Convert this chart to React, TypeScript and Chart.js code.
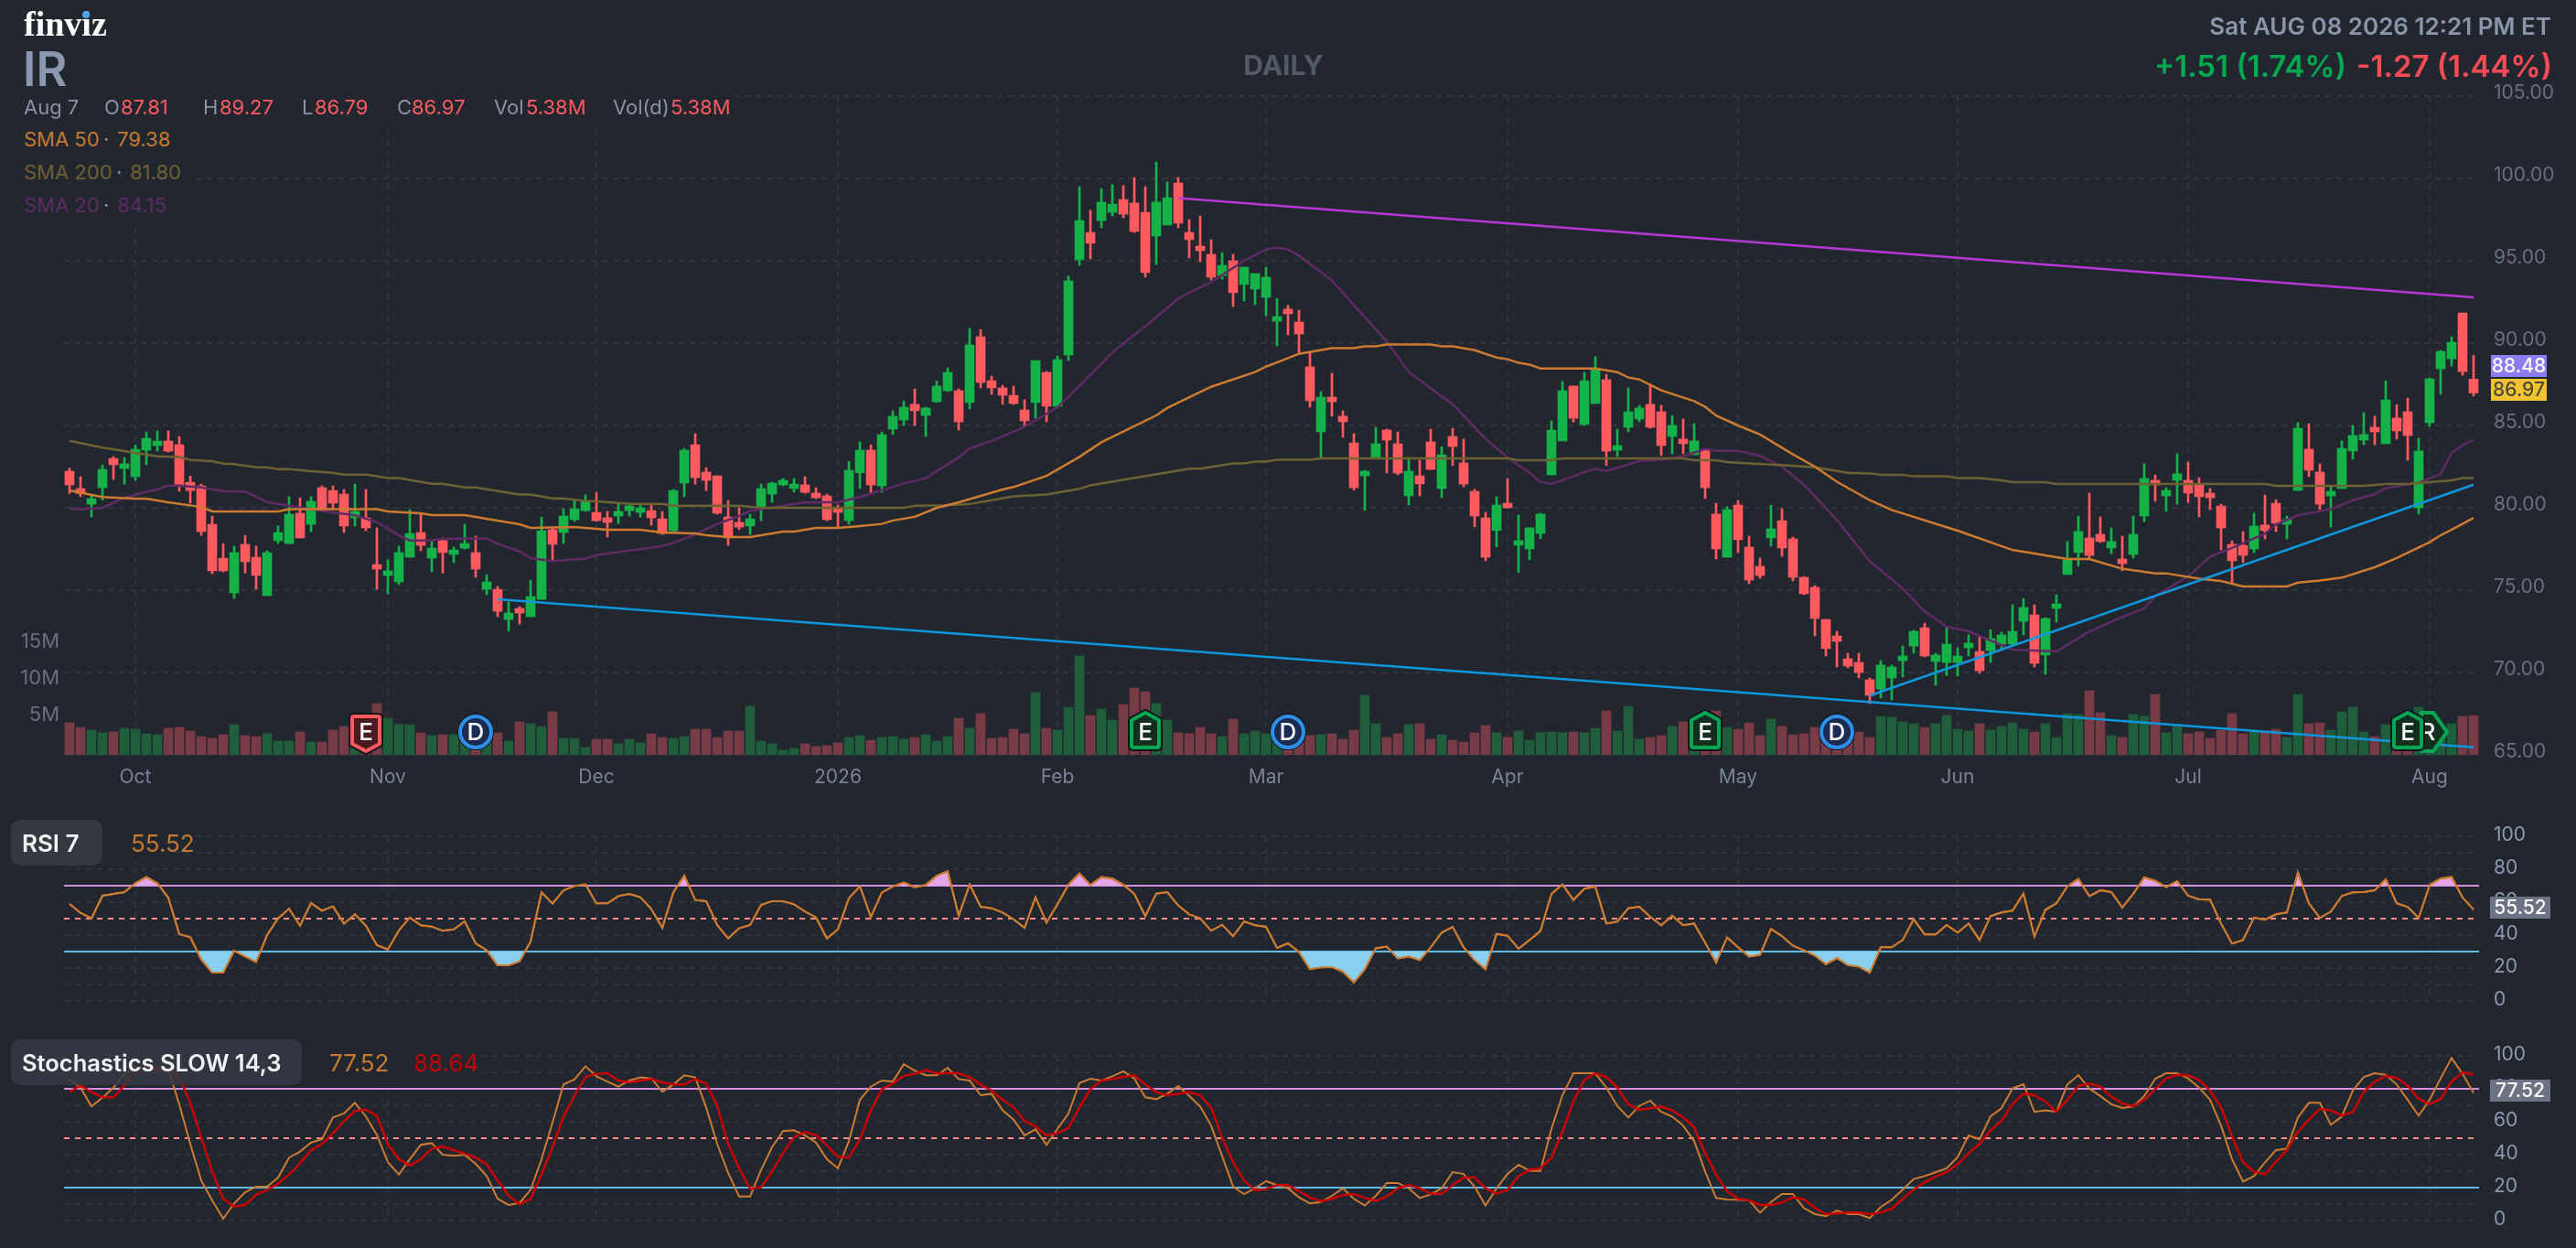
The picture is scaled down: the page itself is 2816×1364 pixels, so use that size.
import React, { useEffect, useRef } from "react";
import { Chart, registerables } from "chart.js";

Chart.register(...registerables);

const opens = [
82.22,81.17,80.22,81.22,83.0,82.39,81.89,83.5,83.78,84.05,
83.83,81.55,81.33,79.0,76.94,74.83,77.78,77.0,74.67,78.0,
77.83,79.67,79.0,81.22,81.05,80.83,79.39,79.39,76.55,75.89,
75.5,77.0,78.5,76.94,78.0,77.17,77.55,77.28,75.05,75.05,
73.22,73.89,73.39,74.44,78.67,78.5,79.28,79.83,79.72,79.39,
79.5,79.83,79.72,79.83,79.33,78.61,81.5,83.83,82.17,81.94,
79.44,79.11,78.89,80.05,80.83,81.39,81.17,81.39,80.89,80.72,
80.0,79.22,82.13,83.5,81.33,84.78,85.33,86.28,85.61,86.44,
87.11,87.11,86.39,90.39,87.72,87.28,86.83,85.94,86.39,88.22,
86.17,89.28,95.06,96.72,97.44,97.94,98.72,98.5,97.94,96.5,
97.17,99.72,96.72,95.89,95.39,94.11,95.0,93.56,93.28,92.78,
91.33,92.06,91.28,88.56,84.61,86.72,85.56,83.94,81.94,83.06,
84.72,83.89,80.73,81.94,84.0,81.17,84.33,82.72,81.0,79.39,
78.62,80.28,77.73,77.5,78.45,82.0,84.06,87.39,85.06,86.33,
87.78,83.5,84.89,85.39,86.28,85.83,84.33,84.17,83.22,83.5,
79.62,77.0,80.17,77.61,76.45,78.17,79.22,78.11,75.78,75.17,
73.22,72.22,70.83,70.61,69.56,69.0,69.67,70.72,71.61,72.72,
70.67,70.61,70.61,71.5,71.28,71.33,71.72,71.72,73.11,73.5,
71.06,73.89,75.95,77.28,78.17,78.39,77.56,76.89,77.17,79.5,
81.67,80.72,81.67,81.67,81.45,80.89,80.11,77.78,77.72,77.5,
78.95,80.28,79.0,81.06,83.56,82.17,80.72,81.17,83.45,84.11,
84.89,83.89,85.45,85.83,80.0,85.17,88.44,89.05,91.83,87.81];

const closes = [
81.39,80.87,80.55,82.33,82.61,82.67,83.55,84.22,84.05,83.44,
81.39,81.05,78.55,76.17,76.17,77.28,76.72,75.89,77.28,78.5,
79.61,78.17,80.39,79.83,80.28,78.89,79.78,78.78,76.28,76.17,
77.28,78.44,77.72,77.55,77.28,77.44,77.83,76.28,75.5,73.72,
73.61,73.61,74.61,78.61,77.78,79.5,79.94,80.39,79.22,79.11,
79.78,80.11,80.0,79.39,78.44,81.05,83.5,81.83,81.67,79.67,
78.17,78.83,79.33,81.17,81.5,81.67,81.44,80.94,80.61,79.28,
79.72,82.28,83.5,81.39,84.44,85.56,86.11,85.89,86.06,87.39,
88.22,85.22,89.89,87.61,87.28,86.83,86.33,85.28,88.94,86.17,
89.0,93.78,97.44,96.06,98.56,98.44,97.83,96.78,94.28,98.56,
98.83,97.28,96.28,95.61,94.0,94.72,93.06,94.61,94.22,94.0,
91.61,91.78,90.56,86.5,86.72,86.44,85.22,81.22,82.22,83.89,
84.11,82.11,82.23,81.45,82.33,83.22,83.72,81.44,79.5,77.0,
80.17,80.0,78.0,78.78,79.62,84.72,87.11,85.44,87.72,88.39,
83.44,83.78,85.83,86.06,84.89,83.78,85.0,83.89,84.06,81.22,
77.5,79.89,78.06,75.61,75.89,78.72,77.56,75.78,74.78,73.28,
71.45,71.89,70.39,70.0,68.61,70.45,70.33,71.0,72.5,71.0,
71.06,71.72,71.0,71.78,70.11,72.06,72.28,72.5,73.95,70.56,
73.28,74.17,76.83,78.56,77.11,77.95,77.95,76.61,78.39,81.78,
81.39,81.06,82.06,80.89,80.67,80.61,78.78,76.78,77.11,78.89,
78.61,79.06,79.28,84.83,82.28,80.22,81.0,83.61,84.39,84.45,
84.61,86.55,84.67,84.39,83.45,87.83,89.5,90.05,88.27,86.97];

const highs = [
82.41,81.89,80.74,82.59,83.11,83.05,83.81,84.61,84.67,84.67,
84.33,81.94,81.44,79.5,77.83,77.67,78.33,77.67,77.39,78.89,
80.67,80.61,80.67,81.33,81.33,81.11,81.44,81.11,78.78,76.83,
77.67,79.89,79.61,77.94,78.17,77.61,79.0,78.28,75.94,75.22,
74.28,74.0,75.61,79.44,78.78,79.94,80.5,80.78,80.94,79.78,
80.22,80.28,80.17,80.28,79.78,81.11,83.61,84.5,82.44,81.94,
80.44,80.0,79.61,81.44,81.55,81.78,81.78,81.89,81.22,80.83,
80.17,82.83,84.0,83.83,84.61,85.89,86.5,87.22,86.11,87.72,
88.5,87.22,90.89,90.83,88.0,87.44,87.39,86.56,88.94,88.28,
89.22,94.06,99.5,98.06,99.39,99.61,99.56,100.06,99.5,101.0,
99.78,100.06,97.5,97.72,96.28,95.5,95.39,94.61,94.22,94.61,
92.72,92.28,92.0,89.44,87.06,88.17,85.89,84.5,82.28,84.89,
84.78,84.61,83.06,82.89,84.78,83.72,84.83,84.17,81.12,79.73,
80.67,81.78,79.56,78.78,79.67,85.28,87.67,87.39,88.22,89.17,
88.11,84.78,87.28,86.22,87.5,86.22,85.61,85.39,85.11,83.5,
80.28,80.06,80.45,78.28,76.95,80.17,79.95,78.22,75.83,75.28,
73.22,72.5,71.17,71.17,69.67,70.72,70.45,71.61,72.56,73.0,
71.17,72.72,71.5,72.28,72.17,72.61,72.45,74.11,74.5,74.11,
73.33,74.72,77.95,79.5,80.89,79.45,78.78,78.28,79.5,82.67,
82.0,81.22,83.28,82.78,81.83,81.17,80.22,78.0,78.56,79.67,
80.78,80.5,79.5,85.17,85.11,82.67,81.28,84.06,85.0,85.78,
85.56,87.72,86.27,86.66,84.22,87.89,89.55,90.39,91.83,89.27];

const lows = [
80.87,80.68,79.44,80.46,81.72,81.44,81.67,82.61,83.44,83.39,
81.0,80.28,78.33,76.0,76.11,74.5,76.05,75.05,74.67,77.83,
77.83,78.17,78.55,79.78,79.94,78.5,78.89,78.61,75.05,74.78,
75.33,77.0,77.39,76.11,76.05,76.67,77.5,75.78,74.72,73.39,
72.5,72.94,73.39,74.44,76.83,77.83,79.17,79.78,79.17,78.22,
79.05,79.5,79.44,78.94,78.39,78.55,80.67,81.44,81.05,79.61,
77.72,78.67,78.39,79.22,80.33,81.33,80.94,80.89,80.55,79.22,
78.8,79.0,81.17,80.94,80.94,84.44,85.0,85.0,84.33,86.39,
87.06,84.72,86.0,87.28,86.89,86.28,86.28,85.0,85.44,85.22,
86.17,88.94,94.72,95.11,97.0,97.72,97.61,96.72,94.0,94.78,
97.17,97.0,95.17,94.94,93.83,93.89,92.22,92.56,92.33,91.67,
89.83,90.5,89.33,86.11,83.0,85.56,84.28,81.06,79.84,83.06,
82.11,82.0,80.17,80.73,82.33,80.61,82.56,81.28,78.84,76.78,
77.62,80.0,76.06,76.84,78.12,82.0,84.06,85.22,85.0,86.33,
82.56,83.11,84.61,85.22,84.83,83.17,83.28,83.28,83.22,80.56,
76.89,77.0,77.28,75.39,75.72,77.67,77.06,75.56,74.72,72.22,
71.0,70.33,70.28,69.67,68.11,68.45,68.33,69.72,71.17,70.95,
69.22,69.83,69.78,71.0,69.95,70.61,71.39,71.67,72.28,70.33,
69.89,73.06,75.95,76.45,76.95,77.89,77.22,76.17,76.95,79.17,
80.39,79.78,80.22,80.33,79.45,79.89,77.45,75.45,76.67,77.28,
78.11,78.56,78.11,81.06,81.89,79.89,78.83,81.17,82.95,83.83,
83.83,83.89,84.17,82.89,79.61,84.95,86.89,88.61,88.05,86.79];

const volumes = [
4.38,3.75,3.38,3.0,3.13,3.63,3.5,2.88,2.75,3.63,
3.75,3.25,2.5,2.25,2.75,4.13,2.63,2.5,2.88,1.88,
1.88,3.13,1.75,1.75,3.38,3.88,2.5,3.0,7.0,5.0,
4.13,4.13,3.0,2.63,2.75,2.75,2.3,3.0,2.5,3.0,
1.88,4.5,4.25,3.88,5.88,2.25,2.25,1.0,2.13,2.13,
1.5,2.13,1.63,2.88,2.38,2.25,2.5,3.5,3.5,2.38,
3.25,3.25,6.63,1.88,1.5,0.63,0.88,1.5,1.13,1.25,
1.63,2.38,2.63,2.0,2.38,2.5,2.13,2.38,2.75,1.88,
2.5,5.0,3.63,5.63,2.25,2.38,3.5,2.88,8.5,3.63,
3.38,6.5,13.5,5.38,6.25,4.75,6.88,9.13,8.63,7.0,
4.75,3.0,2.88,3.75,2.88,2.5,4.88,2.88,3.25,2.88,
2.0,2.0,2.0,2.63,2.75,2.88,2.13,3.38,8.13,4.25,
2.38,2.88,4.13,4.25,2.13,2.75,2.0,1.75,3.0,4.0,
3.0,2.38,3.25,2.0,3.0,3.13,3.0,3.13,3.0,3.63,
6.0,3.25,6.63,2.13,2.38,2.63,3.88,4.5,3.0,3.0,
6.0,3.75,3.5,4.38,2.63,4.88,3.88,2.75,2.88,3.75,
3.5,2.0,3.88,3.13,2.38,5.25,5.13,4.5,4.25,3.75,
4.25,5.38,3.5,3.25,4.25,3.38,3.88,4.38,3.5,3.13,
4.25,2.38,5.63,5.5,8.75,5.75,2.63,2.38,5.5,5.25,
8.25,3.0,4.13,2.88,3.13,2.25,3.38,5.63,2.88,3.13,
3.25,3.5,2.38,8.25,4.25,4.38,3.38,5.88,6.5,3.13,
2.5,4.13,3.5,3.5,6.5,5.5,3.75,4.25,5.25,5.38];

const sma50Idx = [0,3,6,7,9,12,13,19,20,28,29,32,33,36,41,42,46,47,49,52,54,57,58,60,62,65,66,68,70,72,74,75,77,79,81,85,86,89,92,94,99,100,104,108,109,110,112,115,117,118,119,120,124,125,126,128,130,131,132,133,134,139,141,142,143,145,148,149,150,152,154,157,159,161,164,166,172,177,182,184,187,190,191,194,196,198,202,203,205,207,210,212,215,216,218,219];
const sma50Val = [81.05,80.65,80.55,80.55,80.33,80.05,79.78,79.78,79.91,79.91,79.78,79.67,79.55,79.55,79.0,78.78,78.83,78.78,78.67,78.67,78.5,78.44,78.33,78.22,78.22,78.55,78.55,78.78,78.78,78.89,79.02,79.23,79.45,80.0,80.33,81.11,81.26,81.94,83.09,83.98,85.61,86.06,87.35,88.24,88.57,88.83,89.35,89.69,89.69,89.8,89.8,89.91,89.91,89.8,89.8,89.57,89.13,89.02,88.8,88.7,88.46,88.46,88.24,87.91,87.8,87.13,86.48,86.13,85.6,85.0,84.45,83.24,82.5,81.58,80.46,79.87,78.61,77.44,76.89,76.89,76.3,76.02,76.02,75.69,75.56,75.22,75.22,75.46,75.58,75.76,76.39,76.95,77.91,78.33,79.02,79.38];

const sma200Idx = [0,3,8,10,11,13,14,15,17,18,19,20,22,24,25,27,29,30,33,34,36,37,41,42,44,45,47,49,51,54,55,61,63,72,76,77,80,82,86,89,92,93,102,103,106,107,108,109,110,113,114,131,132,135,136,147,148,150,151,153,157,159,160,162,164,165,167,168,171,172,174,176,177,180,181,200,201,209,211,213,215,217,218,219];
const sma200Val = [84.07,83.65,83.13,83.09,82.9,82.83,82.68,82.65,82.46,82.46,82.35,82.35,82.22,82.13,82.02,82.02,81.8,81.8,81.46,81.46,81.24,81.24,80.8,80.8,80.57,80.57,80.41,80.35,80.24,80.24,80.13,80.13,80.0,80.0,80.0,80.13,80.15,80.23,80.69,80.8,81.15,81.36,82.37,82.37,82.69,82.69,82.8,82.8,82.91,82.91,83.0,83.0,82.89,82.89,83.0,83.0,82.89,82.89,82.78,82.69,82.56,82.46,82.35,82.13,82.09,82.0,82.0,81.91,81.91,81.8,81.8,81.67,81.56,81.56,81.45,81.45,81.33,81.33,81.45,81.45,81.56,81.67,81.8,81.8];

const sma20Idx = [0,1,3,5,7,8,9,10,12,14,16,17,18,20,23,26,28,30,31,33,34,38,39,41,42,44,47,48,54,55,57,59,61,62,65,67,70,72,74,76,78,81,82,84,87,90,92,95,98,101,102,104,107,109,110,111,112,115,117,118,120,122,125,126,129,131,133,134,135,136,138,139,140,141,143,145,147,149,150,152,154,156,158,161,164,167,169,171,173,175,177,181,182,184,187,189,190,193,195,197,200,201,203,206,208,210,211,214,216,217,218,219];
const sma20Val = [79.96,79.9,80.0,80.61,80.98,81.11,81.35,81.35,81.24,81.02,80.98,80.68,80.35,80.13,79.8,79.54,79.13,78.33,78.02,78.02,78.13,78.13,77.81,77.35,76.94,76.76,76.91,77.13,77.68,77.87,78.39,79.02,79.5,79.81,80.13,80.33,80.33,80.65,81.06,81.48,81.8,83.06,83.61,84.06,84.91,86.11,87.41,89.44,91.02,92.69,93.06,93.7,95.0,95.69,95.8,95.69,95.31,93.8,92.31,91.57,90.09,88.24,86.76,86.3,84.17,83.06,82.13,81.57,81.46,81.67,82.17,82.37,82.24,82.43,82.83,82.91,83.13,83.57,83.46,83.46,83.15,82.5,81.39,79.26,76.76,75.09,73.7,72.78,72.5,71.94,71.39,71.28,71.67,72.5,73.37,73.89,74.63,75.83,77.04,77.56,78.43,78.98,79.54,79.91,80.46,80.83,81.2,81.52,82.04,83.33,83.8,84.15];

const trendPurpleIdx = [101, 219];
const trendPurpleVal = [98.8, 92.78];
const trendBlueLowIdx = [39, 219];
const trendBlueLowVal = [74.44, 65.46];
const trendBlueUpIdx = [164, 219];
const trendBlueUpVal = [68.6, 81.4];

const rsi7 = [
58.9,53.5,50.2,63.9,65.0,66.1,71.5,75.2,71.5,62.6,
40.6,38.7,25.2,17.2,17.2,30.5,27.0,23.7,40.0,50.2,
56.0,45.7,59.4,54.8,57.4,47.0,52.6,45.7,33.9,31.3,
42.8,50.6,46.0,45.2,42.6,43.5,48.3,35.0,30.8,21.7,
21.7,24.1,36.1,65.9,59.1,67.2,69.8,70.8,59.3,59.3,
63.7,65.0,63.0,55.8,44.4,65.9,76.1,61.3,60.6,46.1,
38.0,44.1,46.1,58.3,60.6,60.6,58.7,54.3,50.7,38.0,
43.5,62.4,69.6,50.9,65.9,69.5,71.9,69.1,70.4,76.1,
78.7,51.7,70.7,57.2,56.3,53.7,49.6,44.4,63.0,47.6,
58.7,70.6,77.4,70.4,75.2,74.3,70.6,65.0,51.5,65.2,
66.1,58.0,52.6,50.2,42.6,46.3,39.3,48.3,46.0,45.0,
32.2,35.0,29.8,19.3,20.4,20.6,17.8,11.3,19.4,32.0,
33.0,25.9,27.0,24.8,32.6,41.5,45.0,32.6,24.8,19.3,
40.7,39.6,31.7,37.0,42.6,65.0,70.7,61.3,68.2,69.5,
47.0,48.2,56.3,57.2,51.1,46.0,51.7,46.0,47.0,35.4,
23.3,38.5,32.6,27.0,28.0,43.7,39.4,33.5,30.8,27.6,
22.4,26.1,21.8,20.9,17.2,32.6,32.6,37.0,49.6,40.4,
40.4,46.1,41.5,47.0,37.0,51.5,53.7,54.8,65.2,39.3,
55.4,59.3,69.6,74.1,63.7,67.2,66.1,56.7,65.0,75.0,
73.0,69.1,72.8,63.9,61.7,61.5,47.0,34.8,37.0,50.6,
49.3,52.6,53.7,78.0,59.3,50.4,54.3,63.7,66.0,66.1,
67.2,73.9,59.3,57.0,50.4,70.4,74.3,75.2,62.8,55.52];

const stochK = [
85.7,80.7,69.3,74.6,80.7,89.1,92.8,92.8,91.8,91.8,
70.6,46.5,24.3,12.2,1.1,10.4,17.2,20.6,20.6,26.1,
38.2,41.9,47.4,49.3,62.6,65.0,71.5,63.2,52.0,35.4,
28.0,37.2,46.0,47.0,40.0,39.3,40.0,34.4,27.0,13.2,
9.5,10.7,18.7,37.2,59.5,82.6,85.7,93.7,87.6,84.4,
81.3,85.0,86.9,86.3,78.3,82.6,88.2,86.9,68.7,46.5,
28.9,14.6,14.6,30.8,44.6,54.3,54.8,51.7,47.4,37.2,
31.7,48.3,73.3,81.3,85.0,84.4,95.0,91.0,88.2,88.2,
92.8,85.9,85.0,76.1,77.0,66.9,61.3,51.7,55.4,46.0,
55.7,65.0,83.5,86.1,85.0,87.6,90.6,86.3,74.8,73.7,
77.0,81.7,75.7,69.3,57.6,39.1,20.6,16.0,19.6,23.9,
21.5,19.6,14.1,10.4,11.3,15.0,19.6,13.2,9.1,15.0,
22.8,22.8,19.6,13.7,15.9,19.6,29.4,28.3,20.6,9.1,
19.6,28.3,33.9,30.2,30.2,55.7,76.1,89.4,89.4,89.4,
80.7,69.6,62.6,69.6,72.8,66.0,63.2,57.6,48.3,29.8,
13.7,12.8,12.6,12.2,4.8,11.3,16.1,16.1,7.6,3.9,
2.6,6.1,3.9,3.9,1.5,8.2,12.6,18.7,25.2,27.0,
29.3,31.7,38.5,51.7,49.3,63.2,68.2,80.2,82.8,66.0,
67.0,66.0,82.6,88.3,80.2,75.6,70.6,68.3,69.3,75.6,
86.1,89.4,89.4,86.3,80.7,73.3,57.6,37.2,23.7,27.0,
35.4,42.8,43.7,62.6,71.5,71.5,58.2,63.2,78.9,87.2,
89.4,88.5,82.6,73.3,63.7,73.3,86.3,98.7,89.1,77.52];

const stochD = [
78.0,82.0,78.0,74.8,74.8,82.0,89.1,92.4,92.4,91.8,
87.2,71.5,50.2,29.8,13.2,8.5,9.4,15.6,18.7,22.4,
28.0,34.8,42.8,46.5,53.0,60.4,66.5,67.4,63.5,46.5,
37.2,33.5,37.2,43.7,45.0,42.8,40.6,38.2,34.1,24.3,
15.0,9.8,13.2,28.0,44.6,63.2,75.7,87.2,89.1,89.4,
85.0,83.9,85.0,85.9,83.9,82.6,82.6,85.9,83.2,69.6,
46.5,31.7,19.3,20.2,29.8,40.9,50.6,53.9,51.7,45.6,
38.7,38.2,49.3,66.9,79.8,83.2,87.8,89.1,91.3,89.4,
89.4,89.4,87.2,82.6,78.9,73.3,68.7,60.4,57.2,51.7,
53.0,56.3,68.7,79.8,85.0,85.9,87.2,88.2,82.6,78.0,
76.1,77.0,78.0,76.1,68.7,50.2,35.4,24.3,18.3,19.1,
21.5,21.5,17.8,14.1,11.7,13.2,15.4,16.1,13.7,11.9,
14.6,19.6,21.5,19.6,16.3,16.3,21.5,26.1,26.1,19.6,
16.3,18.7,27.0,30.8,31.7,38.2,53.9,72.4,85.4,89.4,
87.2,80.7,70.6,67.2,68.2,69.1,66.9,62.6,56.7,40.9,
28.0,17.8,13.2,12.2,9.5,9.5,10.9,14.1,12.8,7.6,
3.9,4.3,4.8,4.8,3.9,4.8,7.2,13.2,18.7,23.3,
26.7,29.4,34.1,40.9,46.5,54.8,60.4,70.6,77.0,76.1,
72.4,66.0,73.3,81.7,83.2,81.3,75.2,71.1,69.3,73.3,
79.8,86.3,88.5,88.2,85.4,78.9,68.7,51.1,35.4,29.8,
28.0,35.7,42.8,53.9,61.3,67.8,66.9,63.7,66.0,78.0,
84.4,87.8,86.7,82.0,73.9,70.6,73.9,84.4,90.0,88.64];

const monthTicks = [6, 29, 48, 70, 90, 109, 131, 152, 172, 193, 215];
const monthLabels = ["Oct", "Nov", "Dec", "2026", "Feb", "Mar", "Apr", "May", "Jun", "Jul", "Aug"];
const priceLevels = [65, 70, 75, 80, 85, 90, 95, 100, 105];
const volumeTicks = [5, 10, 15];
const eventIdx = [215, 27, 37, 98, 111, 149, 161, 213];
const eventKinds = ["R", "Eb", "D", "Eg", "D", "Eg", "D", "Eg"];

const BG = "#22262f";
const GRID = "#2f333c";
const UP = "#15b24a";
const DOWN = "#ff5a5f";
const UP_VOL = "#1f5e3b";
const DOWN_VOL = "#763b44";
const FONT = "Inter, Roboto, sans-serif";
const AXIS_SIZE = 21;
const XMIN = -0.5;
const XMAX = 219.5;

const pts = (xs: number[], ys: number[]) => xs.map((x, i) => ({ x, y: ys[i] }));
const series = (ys: number[]) => ys.map((y, x) => ({ x, y }));
const flat = (v: number) => [{ x: XMIN, y: v }, { x: XMAX, y: v }];

const xAxis = (showLabels: boolean, height: number) => ({
  type: "linear",
  min: XMIN,
  max: XMAX,
  offset: false,
  afterBuildTicks(axis: any) {
    axis.ticks = monthTicks.map((value) => ({ value }));
  },
  afterFit(s: any) {
    s.height = height;
  },
  grid: { color: GRID, lineWidth: 2, drawTicks: false, offset: false },
  border: { display: false, dash: [6, 6] },
  ticks: {
    display: showLabels,
    autoSkip: false,
    maxRotation: 0,
    padding: 12,
    color: "#7a8296",
    font: { size: AXIS_SIZE, family: FONT },
    callback: (v: number) => monthLabels[monthTicks.indexOf(v)] ?? "",
  },
});

function drawHouse(ctx: CanvasRenderingContext2D, x: number, y: number, up: boolean, stroke: string, fill: string) {
  const w = 15;
  const h = 19;
  const tip = 8;
  ctx.beginPath();
  if (up) {
    ctx.moveTo(x, y - h);
    ctx.lineTo(x + w, y - h + tip);
    ctx.lineTo(x + w, y + h - 2);
    ctx.quadraticCurveTo(x + w, y + h, x + w - 2, y + h);
    ctx.lineTo(x - w + 2, y + h);
    ctx.quadraticCurveTo(x - w, y + h, x - w, y + h - 2);
    ctx.lineTo(x - w, y - h + tip);
  } else {
    ctx.moveTo(x - w + 2, y - h);
    ctx.lineTo(x + w - 2, y - h);
    ctx.quadraticCurveTo(x + w, y - h, x + w, y - h + 2);
    ctx.lineTo(x + w, y + h - tip);
    ctx.lineTo(x, y + h);
    ctx.lineTo(x - w, y + h - tip);
    ctx.lineTo(x - w, y - h + 2);
    ctx.quadraticCurveTo(x - w, y - h, x - w + 2, y - h);
  }
  ctx.closePath();
  ctx.lineJoin = "round";
  ctx.lineWidth = 8;
  ctx.strokeStyle = "#14161c";
  ctx.stroke();
  ctx.fillStyle = fill;
  ctx.fill();
  ctx.lineWidth = 4;
  ctx.strokeStyle = stroke;
  ctx.stroke();
}

const eventsPlugin = {
  id: "events",
  afterDatasetsDraw(chart: any) {
    const ctx: CanvasRenderingContext2D = chart.ctx;
    const xs = chart.scales.x;
    ctx.save();
    ctx.textAlign = "center";
    ctx.textBaseline = "middle";
    eventIdx.forEach((idx, n) => {
      const kind = eventKinds[n];
      const x = xs.getPixelForValue(idx);
      const y = 800;
      if (kind === "D") {
        ctx.beginPath();
        ctx.arc(x, y, 20, 0, Math.PI * 2);
        ctx.fillStyle = "#14161c";
        ctx.fill();
        ctx.beginPath();
        ctx.arc(x, y, 17, 0, Math.PI * 2);
        ctx.fillStyle = "#1a2a50";
        ctx.fill();
        ctx.lineWidth = 4;
        ctx.strokeStyle = "#2f8fe8";
        ctx.stroke();
      } else if (kind === "R") {
        ctx.beginPath();
        ctx.moveTo(x + 4, y - 21);
        ctx.lineTo(x + 19, y);
        ctx.lineTo(x + 4, y + 21);
        ctx.lineTo(x - 9, y + 21);
        ctx.lineTo(x - 9, y - 21);
        ctx.closePath();
        ctx.fillStyle = "#13301f";
        ctx.fill();
        ctx.lineWidth = 4;
        ctx.strokeStyle = "#00a651";
        ctx.stroke();
      } else if (kind === "Eg") {
        drawHouse(ctx, x, y - 2, true, "#00a651", "#13301f");
      } else {
        drawHouse(ctx, x, y + 2, false, "#ff5a5f", "#4a1a20");
      }
      ctx.fillStyle = "#ffffff";
      ctx.font = `500 26px ${FONT}`;
      ctx.fillText(kind.charAt(0), kind === "R" ? x - 2 : x, y + 1);
    });
    ctx.restore();
  },
};

function priceConfig(): any {
  const isUp = closes.map((c, i) => c >= opens[i]);
  const lineDs = (label: string, data: any[], color: string, width: number, order: number) => ({
    type: "line",
    label,
    data,
    borderColor: color,
    borderWidth: width,
    pointRadius: 0,
    tension: 0,
    fill: false,
    yAxisID: "y",
    order,
  });
  return {
    type: "bar",
    data: {
      datasets: [
        lineDs("Trend high", pts(trendPurpleIdx, trendPurpleVal), "#b738d6", 2.5, 1),
        lineDs("Trend low", pts(trendBlueLowIdx, trendBlueLowVal), "#0f97dd", 2.5, 1),
        lineDs("Trend up", pts(trendBlueUpIdx, trendBlueUpVal), "#0f97dd", 2.5, 1),
        lineDs("SMA 50", pts(sma50Idx, sma50Val), "#cd7b31", 2.5, 2),
        lineDs("SMA 200", pts(sma200Idx, sma200Val), "#6e6132", 2.5, 2),
        lineDs("SMA 20", pts(sma20Idx, sma20Val), "#602b64", 2.5, 2),
        {
          label: "Body",
          data: opens.map((o, x) => ({ x, y: [o, closes[x]] })),
          backgroundColor: isUp.map((u) => (u ? UP : DOWN)),
          barThickness: 10,
          grouped: false,
          yAxisID: "y",
          order: 3,
        },
        {
          label: "Wick",
          data: lows.map((l, x) => ({ x, y: [l, highs[x]] })),
          backgroundColor: isUp.map((u) => (u ? UP : DOWN)),
          barThickness: 2,
          grouped: false,
          yAxisID: "y",
          order: 4,
        },
        {
          label: "Volume",
          data: series(volumes),
          backgroundColor: isUp.map((u) => (u ? UP_VOL : DOWN_VOL)),
          barThickness: 10,
          grouped: false,
          yAxisID: "yVol",
          order: 5,
        },
      ],
    },
    options: {
      animation: false,
      responsive: false,
      devicePixelRatio: 1,
      layout: { autoPadding: false, padding: { top: 105, left: 0, right: 0, bottom: 0 } },
      plugins: { legend: { display: false }, tooltip: { enabled: false } },
      scales: {
        x: xAxis(true, 45),
        y: {
          position: "right",
          min: 65,
          max: 105,
          afterBuildTicks(axis: any) {
            axis.ticks = priceLevels.map((value) => ({ value }));
          },
          afterFit(s: any) {
            s.width = 106;
          },
          grid: { color: GRID, lineWidth: 2, drawTicks: false },
          border: { display: false, dash: [6, 6] },
          ticks: {
            color: "#676f81",
            padding: 16,
            crossAlign: "near",
            labelOffset: -3,
            font: { size: AXIS_SIZE, family: FONT },
            callback: (v: number) => v.toFixed(2),
          },
        },
        yVol: {
          position: "left",
          min: 0,
          max: 90,
          afterBuildTicks(axis: any) {
            axis.ticks = volumeTicks.map((value) => ({ value }));
          },
          afterFit(s: any) {
            s.width = 70;
          },
          grid: { display: false, drawTicks: false },
          border: { display: false },
          ticks: {
            color: "#676f81",
            padding: 5,
            labelOffset: -4,
            font: { size: 22, family: FONT },
            callback: (v: number) => `${v}M`,
          },
        },
      },
    },
    plugins: [eventsPlugin],
  };
}

function paneConfig(datasets: any[]): any {
  return {
    type: "line",
    data: { datasets },
    options: {
      animation: false,
      responsive: false,
      devicePixelRatio: 1,
      layout: { autoPadding: false, padding: { top: 34, left: 70, right: 0, bottom: 0 } },
      plugins: { legend: { display: false }, tooltip: { enabled: false } },
      elements: { point: { radius: 0 }, line: { tension: 0 } },
      scales: {
        x: xAxis(false, 46),
        y: {
          position: "right",
          min: 0,
          max: 100,
          afterFit(s: any) {
            s.width = 106;
          },
          grid: { color: GRID, lineWidth: 2, drawTicks: false },
          border: { display: false, dash: [6, 6] },
          ticks: {
            stepSize: 10,
            autoSkip: false,
            color: "#8f99ad",
            padding: 16,
            crossAlign: "near",
            labelOffset: -1,
            font: { size: AXIS_SIZE, family: FONT },
            callback: (v: number) => (v % 20 === 0 ? String(v) : ""),
          },
        },
      },
    },
  };
}

const level = (v: number, color: string, dash?: number[]) => ({
  data: flat(v),
  borderColor: color,
  borderWidth: 2,
  borderDash: dash ?? [],
  pointRadius: 0,
  fill: false,
  order: 5,
});

function rsiConfig() {
  return paneConfig([
    level(70, "#d68ce0"),
    level(50, "#ff8a8a", [6, 6]),
    level(30, "#62bbe6"),
    {
      data: series(rsi7),
      borderColor: "#cd7b31",
      borderWidth: 2,
      pointRadius: 0,
      fill: { target: { value: 70 }, above: "#e3a6ea", below: "rgba(0,0,0,0)" },
      order: 2,
    },
    {
      data: series(rsi7),
      borderColor: "#cd7b31",
      borderWidth: 2,
      pointRadius: 0,
      fill: { target: { value: 30 }, above: "rgba(0,0,0,0)", below: "#8bcff0" },
      order: 1,
    },
  ]);
}

function stochConfig() {
  return paneConfig([
    level(80, "#d68ce0"),
    level(50, "#ff8a8a", [6, 6]),
    level(20, "#62bbe6"),
    { data: series(stochK), borderColor: "#cd7b31", borderWidth: 2, pointRadius: 0, fill: false, order: 2 },
    { data: series(stochD), borderColor: "#cc0000", borderWidth: 2.5, pointRadius: 0, fill: false, order: 1 },
  ]);
}

function Txt(props: {
  x?: number;
  right?: number;
  y: number;
  size: number;
  color: string;
  weight?: number;
  family?: string;
  children: React.ReactNode;
}) {
  const { x, right, y, size, color, weight, family, children } = props;
  return (
    <div
      style={{
        position: "absolute",
        left: x,
        right,
        top: y,
        transform: "translateY(-50%)",
        fontSize: size,
        color,
        fontWeight: weight ?? 400,
        fontFamily: family ?? FONT,
        whiteSpace: "nowrap",
        lineHeight: 1,
      }}
    >
      {children}
    </div>
  );
}

function Patch(props: { x: number; y: number; w: number; h: number; bg: string; radius?: number }) {
  return (
    <div
      style={{
        position: "absolute",
        left: props.x,
        top: props.y,
        width: props.w,
        height: props.h,
        background: props.bg,
        borderRadius: props.radius ?? 0,
      }}
    />
  );
}

function Badge(props: { x: number; y: number; w: number; h: number; bg: string; color: string; text: string }) {
  return (
    <div
      style={{
        position: "absolute",
        left: props.x,
        top: props.y,
        width: props.w,
        height: props.h,
        background: props.bg,
        color: props.color,
        fontFamily: FONT,
        fontSize: 21,
        fontWeight: 500,
        lineHeight: `${props.h}px`,
        textAlign: "center",
      }}
    >
      {props.text}
    </div>
  );
}

const RED = "#ff5a5f";
const GREY = "#8a92a6";
const TXT = 22;

export default function App() {
  const priceRef = useRef<HTMLCanvasElement>(null);
  const rsiRef = useRef<HTMLCanvasElement>(null);
  const stochRef = useRef<HTMLCanvasElement>(null);

  useEffect(() => {
    const charts = [
      new Chart(priceRef.current as any, priceConfig()),
      new Chart(rsiRef.current as any, rsiConfig() as any),
      new Chart(stochRef.current as any, stochConfig() as any),
    ];
    return () => charts.forEach((c) => c.destroy());
  }, []);

  return (
    <div style={{ position: "absolute", left: 0, top: 0, width: 2816, height: 1364, background: BG, overflow: "hidden" }}>
      <canvas ref={priceRef} width={2816} height={870} style={{ position: "absolute", left: 0, top: 0, width: 2816, height: 870 }} />
      <canvas ref={rsiRef} width={2816} height={260} style={{ position: "absolute", left: 0, top: 880, width: 2816, height: 260 }} />
      <canvas ref={stochRef} width={2816} height={260} style={{ position: "absolute", left: 0, top: 1120, width: 2816, height: 260 }} />

      <Patch x={0} y={96} w={803} h={44} bg={BG} />
      <Patch x={0} y={134} w={213} h={113} bg={BG} />

      <Txt x={26} y={26} size={38} color="#ffffff" weight={700} family="'Liberation Serif', serif">finviz</Txt>
      <div style={{ position: "absolute", left: 90, top: 12, width: 8, height: 8, borderRadius: 4, background: "#4aa8f0" }} />
      <Txt x={25} y={76} size={52} color="#8c98af" weight={600}>IR</Txt>

      <Txt x={26} y={117} size={TXT} color={GREY}>Aug 7</Txt>
      <Txt x={114} y={117} size={TXT} color={GREY}>O</Txt>
      <Txt x={132} y={117} size={TXT} color={RED}>87.81</Txt>
      <Txt x={222} y={117} size={TXT} color={GREY}>H</Txt>
      <Txt x={240} y={117} size={TXT} color={RED}>89.27</Txt>
      <Txt x={330} y={117} size={TXT} color={GREY}>L</Txt>
      <Txt x={344} y={117} size={TXT} color={RED}>86.79</Txt>
      <Txt x={434} y={117} size={TXT} color={GREY}>C</Txt>
      <Txt x={450} y={117} size={TXT} color={RED}>86.97</Txt>
      <Txt x={540} y={117} size={TXT} color={GREY}>Vol</Txt>
      <Txt x={575} y={117} size={TXT} color={RED}>5.38M</Txt>
      <Txt x={670} y={117} size={TXT} color={GREY}>Vol(d)</Txt>
      <Txt x={733} y={117} size={TXT} color={RED}>5.38M</Txt>

      <Txt x={26} y={152} size={TXT} color="#c47a30">SMA 50</Txt>
      <Txt x={113} y={152} size={TXT} color={GREY}>·</Txt>
      <Txt x={128} y={152} size={TXT} color="#c47a30">79.38</Txt>
      <Txt x={26} y={188} size={TXT} color="#6d6032">SMA 200</Txt>
      <Txt x={127} y={188} size={TXT} color={GREY}>·</Txt>
      <Txt x={142} y={188} size={TXT} color="#6d6032">81.80</Txt>
      <Txt x={26} y={224} size={TXT} color="#5e2a62">SMA 20</Txt>
      <Txt x={113} y={224} size={TXT} color={GREY}>·</Txt>
      <Txt x={128} y={224} size={TXT} color="#5e2a62">84.15</Txt>

      <div style={{ position: "absolute", left: 1203, width: 400, top: 56, textAlign: "center", fontFamily: FONT, fontSize: 30, fontWeight: 700, color: "#525969", lineHeight: "30px" }}>DAILY</div>

      <Txt right={27} y={29} size={26} color="#8c96ab" weight={600}>Sat AUG 08 2026 12:21 PM ET</Txt>
      <Txt right={251} y={72} size={33} color="#00a84f" weight={600}>+1.51 (1.74%)</Txt>
      <Txt right={26} y={72} size={33} color="#ff4b55" weight={600}>-1.27 (1.44%)</Txt>

      <Badge x={2723} y={388} w={61} h={24} bg="#8f7cf0" color="#ffffff" text="88.48" />
      <Badge x={2723} y={414} w={61} h={24} bg="#f2c230" color="#4a4a3a" text="86.97" />

      <Patch x={112} y={896} w={78} h={46} bg={BG} />
      <Patch x={12} y={896} w={100} h={50} bg="rgba(53,57,67,0.92)" radius={10} />
      <Txt x={24} y={922} size={26} color="#f0f2f5" weight={600}>RSI 7</Txt>
      <Txt x={143} y={922} size={26} color="#c47a30">55.52</Txt>
      <Badge x={2722} y={980} w={66} h={24} bg="#6b7385" color="#ffffff" text="55.52" />

      <Patch x={330} y={1136} w={197} h={46} bg={BG} />
      <Patch x={12} y={1136} w={318} h={50} bg="rgba(53,57,67,0.85)" radius={10} />
      <Txt x={24} y={1162} size={25.5} color="#f0f2f5" weight={600}>Stochastics SLOW 14,3</Txt>
      <Txt x={360} y={1162} size={26} color="#c47a30">77.52</Txt>
      <Txt x={452} y={1162} size={26} color="#c00000">88.64</Txt>
      <Badge x={2722} y={1180} w={66} h={24} bg="#6b7385" color="#ffffff" text="77.52" />
    </div>
  );
}
